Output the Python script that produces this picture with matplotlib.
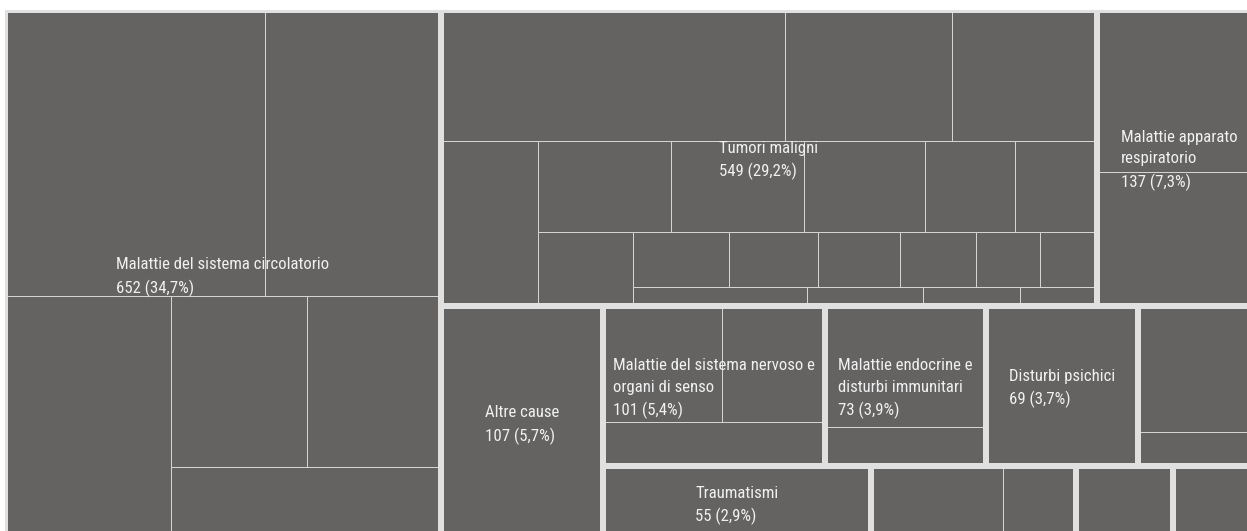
import matplotlib
matplotlib.use("Agg")
import matplotlib.pyplot as plt
from matplotlib.patches import Rectangle
from matplotlib import font_manager as fm

# ---------------- data ----------------
group_labels = [
    "Malattie del sistema circolatorio",
    "Tumori maligni",
    "Malattie apparato\nrespiratorio",
    "Altre cause",
    "Malattie del sistema nervoso e\norgani di senso",
    "Malattie endocrine e\ndisturbi immunitari",
    "Disturbi psichici",
    "",
    "Traumatismi",
    "",
    "",
    "",
]
group_values = [652, 549, 137, 107, 101, 73, 69, 56, 55, 42, 20, 18]

circolatorio_children = [210, 142, 114, 66, 65, 55]
tumori_children = [128, 62, 54, 45, 34, 34, 31, 23, 21, 20, 15, 14, 13, 12, 10, 9, 9, 6, 5, 4]
respiratorio_children = [75, 62]
altre_children = [107]
nervoso_children = [39, 34, 28]
endocrine_children = [55, 18]
psichici_children = [69]
gruppo8_children = [44, 12]
traumatismi_children = [55]
gruppo10_children = [27, 15]
gruppo11_children = [20]
gruppo12_children = [18]

children_values = [
    circolatorio_children, tumori_children, respiratorio_children,
    altre_children, nervoso_children, endocrine_children, psichici_children,
    gruppo8_children, traumatismi_children, gruppo10_children,
    gruppo11_children, gruppo12_children,
]

# ---------------- layout ----------------
FIG_W, FIG_H = 1247, 531
W, H = 1256.0, 529.0          # layout space (plot area size)
LEFT, TOP = 5, 10

FILL = "#646361"
THIN = "#d4d4d4"
GAP = "#e0e0e0"
TXT = "#f0f0f0"


def aspect(a, b):
    return max(a / b, b / a)


def place(strip, d, rx, ry, rw, rh):
    s = sum(strip)
    out = []
    if d == 0:
        cw = s / rh
        yy = ry
        for a in strip:
            ph = a / cw
            out.append((rx, yy, cw, ph))
            yy += ph
        return out, (rx + cw, ry, rw - cw, rh)
    ch = s / rw
    xx = rx
    for a in strip:
        pw = a / ch
        out.append((xx, ry, pw, ch))
        xx += pw
    return out, (rx, ry + ch, rw, rh - ch)


def squarified(values, x, y, w, h, direction):
    total = float(sum(values))
    areas = [v / total * w * h for v in values]
    rects = []
    rx, ry, rw, rh = x, y, w, h
    d = direction
    strip = []
    for a in areas:
        if strip:
            p = strip[-1]
            s = sum(strip)
            if d == 0:
                lw = s / rh
                nw = (s + a) / rh
                lr = aspect(lw, p / lw)
                nr = aspect(nw, p / nw)
            else:
                lh = s / rw
                nh = (s + a) / rw
                lr = aspect(p / lh, lh)
                nr = aspect(p / nh, nh)
            if nr > lr:
                out, (rx, ry, rw, rh) = place(strip, d, rx, ry, rw, rh)
                rects.extend(out)
                d = 1 - d
                strip = []
        strip.append(a)
    out, _ = place(strip, d, rx, ry, rw, rh)
    rects.extend(out)
    return rects


avail = {f.name for f in fm.fontManager.ttflist}
font = "DejaVu Sans"
for cand in ["Roboto Condensed", "Liberation Sans Narrow", "Roboto"]:
    if cand in avail:
        font = cand
        break

fig = plt.figure(figsize=(FIG_W / 100, FIG_H / 100), dpi=100)
fig.patch.set_facecolor("white")
ax = fig.add_axes([LEFT / FIG_W, 1 - (TOP + H) / FIG_H, W / FIG_W, H / FIG_H])
ax.set_xlim(0, W)
ax.set_ylim(H, 0)
ax.axis("off")

total = sum(group_values)
group_rects = squarified(group_values, 0, 0, W, H, 0)

px = 0.72  # points per pixel at 100 dpi
for (gx, gy, gw, gh), kids in zip(group_rects, children_values):
    for (cx, cy, cw, ch) in squarified(kids, gx, gy, gw, gh, 1):
        ax.add_patch(Rectangle((cx, cy), cw, ch, facecolor=FILL,
                               edgecolor=THIN, linewidth=1.0 * px))

for (gx, gy, gw, gh) in group_rects:
    ax.add_patch(Rectangle((gx, gy), gw, gh, fill=False,
                           edgecolor=GAP, linewidth=6 * px))

for (gx, gy, gw, gh), lab, v in zip(group_rects, group_labels, group_values):
    if not lab:
        continue
    pct = f"{v / total * 100:.1f}".replace(".", ",")
    ax.text(gx + gw / 2, gy + gh / 2 + 2.5, f"{lab}\n{v} ({pct}%)",
            ha="center", va="center", multialignment="left",
            color=TXT, fontsize=12.1, linespacing=1.52, family=font)

fig.savefig("out.png", dpi=100, facecolor="white")
